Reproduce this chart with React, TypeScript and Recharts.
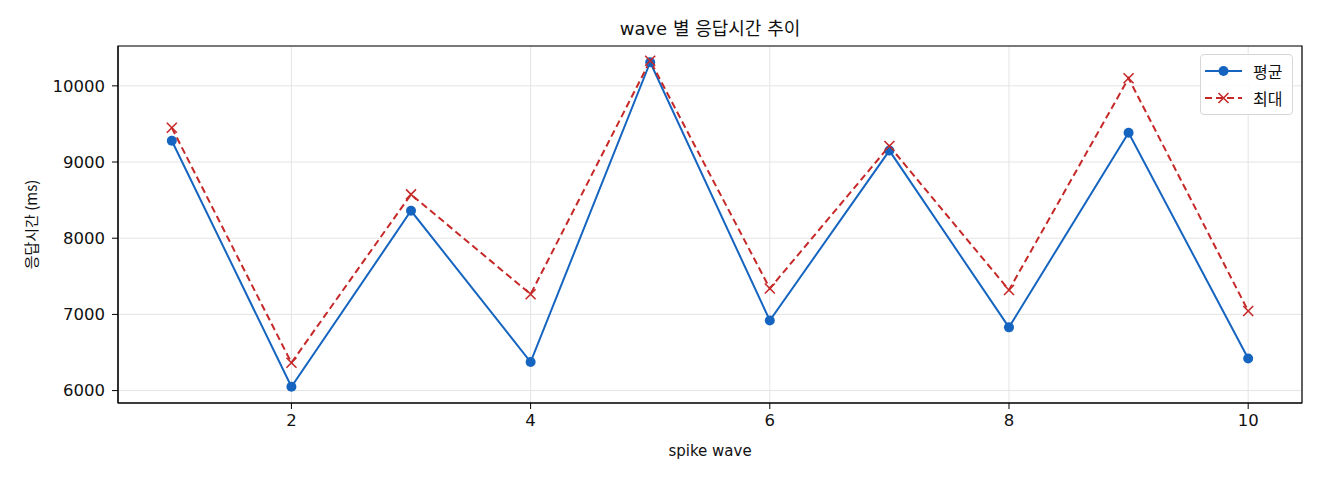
import React from 'react';
import { LineChart, Line, XAxis, YAxis, CartesianGrid, Legend, ReferenceArea, Label } from 'recharts';

const waves = [1, 2, 3, 4, 5, 6, 7, 8, 9, 10];
const avgValues = [9280, 6050, 8360, 6375, 10310, 6920, 9150, 6830, 9385, 6420];
const maxValues = [9450, 6365, 8575, 7265, 10330, 7340, 9210, 7320, 10100, 7045];
const xTicks = [2, 4, 6, 8, 10];
const yTicks = [6000, 7000, 8000, 9000, 10000];
const xDomain = [0.55, 10.45];
const yDomain = [5837, 10523];

const TITLE = 'wave 별 응답시간 추이';
const X_LABEL = 'spike wave';
const Y_LABEL = '응답시간 (ms)';
const AVG_NAME = '평균';
const MAX_NAME = '최대';

const BLUE = '#1565c0';
const RED = '#c62828';
const FONT = '"Noto Sans CJK KR", "Noto Sans", sans-serif';
const LATIN_FONT = '"DejaVu Sans", "Noto Sans CJK KR", sans-serif';

const data = waves.map((w, i) => ({ wave: w, avg: avgValues[i], max: maxValues[i] }));

const CrossDot = (props: any) => {
  const { cx, cy } = props;
  if (cx == null || cy == null) return <g />;
  const s = 5;
  return (
    <g>
      <line x1={cx - s} y1={cy - s} x2={cx + s} y2={cy + s} stroke={RED} strokeWidth={1.6} />
      <line x1={cx - s} y1={cy + s} x2={cx + s} y2={cy - s} stroke={RED} strokeWidth={1.6} />
    </g>
  );
};

const renderLegend = () => (
  <div
    style={{
      boxSizing: 'border-box',
      width: 93,
      height: 61,
      border: '1px solid #d6d6d6',
      borderRadius: 4,
      background: 'rgba(255,255,255,0.85)',
      fontFamily: FONT,
      fontSize: 16,
      color: '#111',
    }}
  >
    <div style={{ position: 'absolute', left: 5, top: 6, display: 'flex', alignItems: 'center', height: 22 }}>
      <svg width={38} height={22}>
        <line x1={0} y1={11} x2={37} y2={11} stroke={BLUE} strokeWidth={2} />
        <circle cx={18.5} cy={11} r={5} fill={BLUE} />
      </svg>
      <span style={{ marginLeft: 10 }}>{AVG_NAME}</span>
    </div>
    <div style={{ position: 'absolute', left: 5, top: 33, display: 'flex', alignItems: 'center', height: 22 }}>
      <svg width={38} height={22}>
        <line x1={0} y1={11} x2={37} y2={11} stroke={RED} strokeWidth={2} strokeDasharray="7 4" />
        <line x1={13.5} y1={6} x2={23.5} y2={16} stroke={RED} strokeWidth={1.6} />
        <line x1={13.5} y1={16} x2={23.5} y2={6} stroke={RED} strokeWidth={1.6} />
      </svg>
      <span style={{ marginLeft: 10 }}>{MAX_NAME}</span>
    </div>
  </div>
);

export default function App() {
  return (
    <div style={{ position: 'absolute', left: 0, top: 0, width: 1320, height: 480, background: '#fff', fontFamily: FONT }}>
      <div
        style={{
          position: 'absolute',
          left: 118,
          width: 1184,
          top: 17,
          height: 24,
          lineHeight: '24px',
          textAlign: 'center',
          fontSize: 18,
          fontFamily: LATIN_FONT,
          color: '#111',
          zIndex: 2,
        }}
      >
        {TITLE}
      </div>
      <LineChart width={1320} height={480} data={data} margin={{ top: 46, right: 18, bottom: 0, left: 0 }}>
        <CartesianGrid stroke="#e4e4e4" strokeWidth={1} />
        <XAxis
          dataKey="wave"
          type="number"
          domain={xDomain}
          ticks={xTicks}
          allowDataOverflow
          height={77}
          tickSize={6}
          tickMargin={5}
          stroke="#000"
          tick={{ fill: '#111', fontSize: 16.5, fontFamily: LATIN_FONT }}
        >
          <Label
            content={(p: any) => {
              const vb = p.viewBox || {};
              const cx = vb.x + vb.width / 2;
              return (
                <text x={cx} y={451} textAnchor="middle" dominantBaseline="central" fontSize={15} fill="#111" fontFamily={LATIN_FONT}>
                  {X_LABEL}
                </text>
              );
            }}
          />
        </XAxis>
        <YAxis
          type="number"
          domain={yDomain}
          ticks={yTicks}
          allowDataOverflow
          width={118}
          tickSize={6}
          tickMargin={7}
          stroke="#000"
          tick={{ fill: '#111', fontSize: 16.5, fontFamily: LATIN_FONT }}
        >
          <Label
            content={(p: any) => {
              const vb = p.viewBox || {};
              const cy = vb.y + vb.height / 2;
              return (
                <text
                  x={30}
                  y={cy}
                  transform={`rotate(-90 30 ${cy})`}
                  textAnchor="middle"
                  dominantBaseline="central"
                  fontSize={15}
                  fill="#111"
                  fontFamily={FONT}
                >
                  {Y_LABEL}
                </text>
              );
            }}
          />
        </YAxis>
        <ReferenceArea
          x1={xDomain[0]}
          x2={xDomain[1]}
          y1={yDomain[0]}
          y2={yDomain[1]}
          fill="none"
          stroke="#000"
          strokeWidth={1.2}
          ifOverflow="visible"
        />
        <Line
          type="linear"
          dataKey="avg"
          name={AVG_NAME}
          stroke={BLUE}
          strokeWidth={2}
          dot={{ r: 5, fill: BLUE, stroke: BLUE, strokeWidth: 0 }}
          activeDot={false}
          isAnimationActive={false}
        />
        <Line
          type="linear"
          dataKey="max"
          name={MAX_NAME}
          stroke={RED}
          strokeWidth={2}
          strokeDasharray="7 4"
          dot={(p: any) => <CrossDot key={`x-${p.index}`} {...p} />}
          activeDot={false}
          isAnimationActive={false}
        />
        <Legend
          layout="vertical"
          align="center"
          verticalAlign="middle"
          content={renderLegend}
          wrapperStyle={{ position: 'absolute', left: 1200, top: 54, width: 93, height: 61 }}
        />
      </LineChart>
    </div>
  );
}
